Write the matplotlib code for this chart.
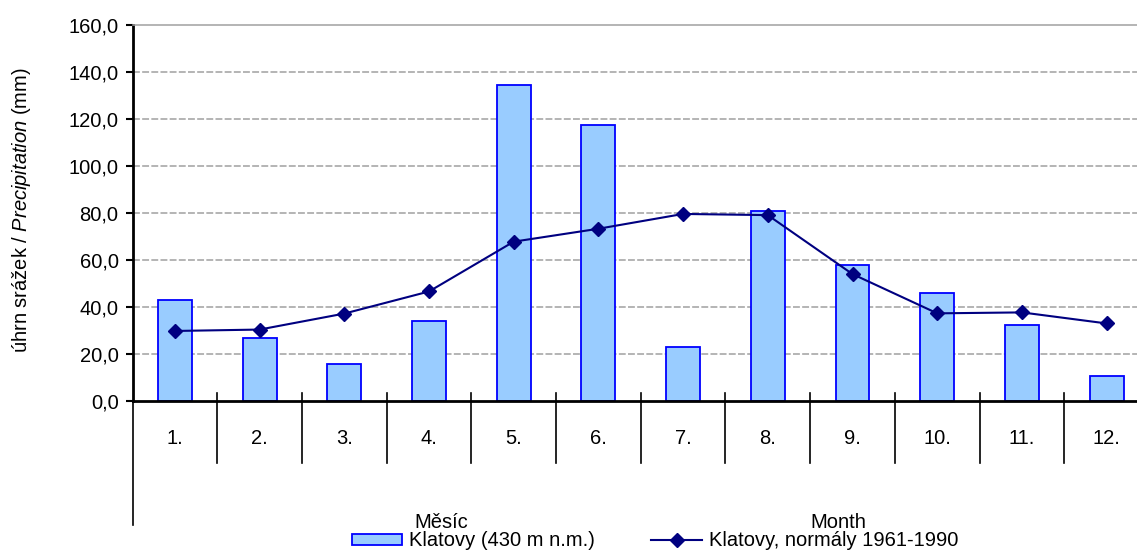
import numpy as np
import matplotlib
matplotlib.use("Agg")
import matplotlib.pyplot as plt
from matplotlib.transforms import blended_transform_factory

plt.rcParams['font.family'] = ['Liberation Sans', 'DejaVu Sans']
plt.rcParams['mathtext.fontset'] = 'custom'
plt.rcParams['mathtext.rm'] = 'Liberation Sans'
plt.rcParams['mathtext.it'] = 'Liberation Sans:italic'

# data
months = ["1.", "2.", "3.", "4.", "5.", "6.", "7.", "8.", "9.", "10.", "11.", "12."]
klatovy = [43.1, 27.0, 15.9, 33.9, 134.5, 117.3, 22.9, 80.7, 57.7, 45.8, 32.3, 10.8]
normaly = [29.8, 30.4, 37.2, 46.6, 67.8, 73.3, 79.6, 79.1, 54.0, 37.3, 37.7, 33.0]
yticks = [0, 20, 40, 60, 80, 100, 120, 140, 160]
group_labels = ["Měsíc", "Month"]
group_pos = [3.14, 7.83]

fs = 14.5
W, H = 1137, 552
fig = plt.figure(figsize=(W / 100, H / 100), dpi=100)
ax = fig.add_axes([132.5 / W, 1 - 401 / H, (1149 - 132.5) / W, 376 / H])

x = np.arange(len(months))
bars = ax.bar(x, klatovy, width=0.4, color='#99CCFF', edgecolor='#0000FF', linewidth=1.3,
              label='Klatovy (430 m n.m.)', zorder=2)
line, = ax.plot(x, normaly, color='#000080', linewidth=1.5, marker='D', markersize=7.5,
                label='Klatovy, normály 1961-1990', zorder=3)

ax.set_xlim(-0.5, len(months) - 0.5)
ax.set_ylim(0, 160)
ax.set_yticks(yticks)
ax.set_yticklabels([f"{v:.1f}".replace('.', ',') for v in yticks], fontsize=fs)
for v in yticks[1:-1]:
    ax.axhline(v, color='#A0A0A0', linewidth=1.1, dashes=(4.5, 1.5), zorder=1)

ax.spines['right'].set_visible(False)
ax.spines['top'].set_color('#A0A0A0')
ax.spines['top'].set_linewidth(1.1)
ax.spines['left'].set_linewidth(2.0)
ax.spines['bottom'].set_linewidth(2.0)
ax.tick_params(axis='y', direction='out', length=5, width=1.5, pad=5)
ax.set_xticks([])

# category axis: dividers, month labels, group labels
tr = blended_transform_factory(ax.transData, fig.transFigure)
for k in range(1, len(months)):
    ax.plot([k - 0.5, k - 0.5], [1 - 393 / H, 1 - 463 / H], transform=tr, color='black',
            linewidth=1.2, clip_on=False)
ax.plot([-0.5, -0.5], [1 - 401 / H, 1 - 525 / H], transform=tr, color='black',
        linewidth=1.2, clip_on=False)
for i, m in enumerate(months):
    ax.text(i, 1 - 438 / H, m, transform=tr, ha='center', va='center', fontsize=fs)
for g, p in zip(group_labels, group_pos):
    ax.text(p, 1 - 522 / H, g, transform=tr, ha='center', va='center', fontsize=fs)

fig.text(22 / W, 1 - 210 / H, r'úhrn srážek / $\mathit{Precipitation}$ (mm)',
         rotation=90, ha='center', va='center', fontsize=fs)

fig.legend(handles=[bars, line], loc='center', bbox_to_anchor=(0.576, 1 - 541 / H), ncol=2,
           frameon=False, fontsize=fs, handlelength=2.5, handleheight=0.5,
           handletextpad=0.35, columnspacing=2.8, borderpad=0)

fig.savefig("out.png", dpi=100)
